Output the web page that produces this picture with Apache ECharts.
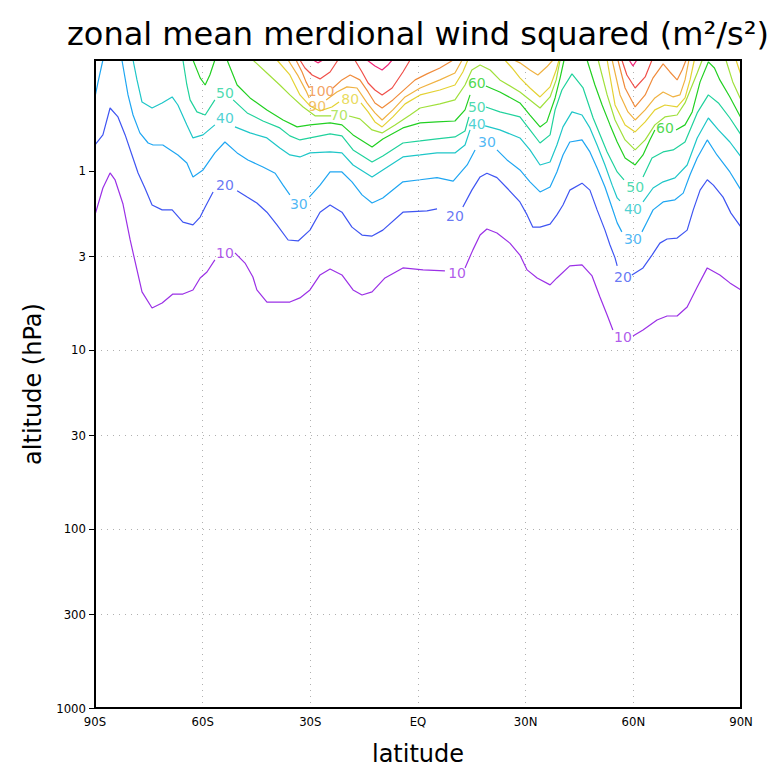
<!DOCTYPE html>
<html><head><meta charset="utf-8">
<script src="https://cdn.jsdelivr.net/npm/echarts@6/dist/echarts.min.js"></script>
<style>html,body{margin:0;padding:0;background:#fff}#c{width:780px;height:771px}</style>
</head><body><div id="c"></div>
<script>
// ---- data (latitude in degrees, pressure in hPa) ----
const xTickLabels = {'-90':'90S','-60':'60S','-30':'30S','0':'EQ','30':'30N','60':'60N','90':'90N'};
const yTickValues = [1,3,10,30,100,300,1000];
const levels = [10,20,30,40,50,60,70,80,90,100,110,120];

const c10 = [
 [[-90,1.76],[-87.8,1.245],[-85.8,1.026],[-84.4,1.123],[-82.2,1.53],[-80.2,2.43],[-78.3,3.57],[-76.9,4.74],[-74.1,5.83],[-71.3,5.47],[-68.3,4.87],[-65.5,4.87],[-62.7,4.62],[-60.7,3.96],[-58.8,3.67],[-56.6,3.14]],
 [[-51.0,2.87],[-48.2,3.27],[-46.0,3.91],[-44.9,4.62],[-42.1,5.40],[-35.7,5.40],[-32.9,5.12],[-30.1,4.62],[-27.3,3.81],[-24.5,3.53],[-21.2,3.81],[-18.1,4.62],[-15.6,4.93],[-12.8,4.74],[-9.2,3.96],[-4.2,3.48],[1.4,3.57],[7.5,3.62]],
 [[13.1,3.48],[15.3,2.76],[17.3,2.28],[19.2,2.11],[22.0,2.22],[25.6,2.53],[28.4,2.95],[30.4,3.57],[33.2,3.96],[36.8,4.33],[38.7,3.96],[42.3,3.39],[45.7,3.35],[48.5,3.86],[50.7,5.06],[52.7,6.38],[54.3,7.73]],
 [[59.9,8.35],[62.7,7.73],[66.6,6.80],[69.4,6.46],[72.2,6.46],[75.0,5.75],[77.8,4.45],[80.6,3.48],[84.1,3.81],[86.9,4.22],[90,4.62]]
];
const c20 = [
 [[-90,0.716],[-87.8,0.629],[-85.8,0.445],[-83.6,0.499],[-81.6,0.629],[-79.7,0.814],[-78.0,1.026],[-76.1,1.245],[-74.1,1.55],[-71.3,1.65],[-68.5,1.65],[-65.5,1.93],[-62.7,2.00],[-60.7,1.81],[-59.3,1.59],[-57.1,1.31]],
 [[-50.4,1.29],[-47.6,1.40],[-44.9,1.51],[-42.1,1.70],[-39.3,2.00],[-36.2,2.43],[-33.4,2.46],[-30.1,2.14],[-27.3,1.70],[-24.5,1.55],[-21.2,1.70],[-18.4,2.06],[-15.6,2.28],[-12.8,2.31],[-9.8,2.14],[-4.2,1.70],[2.5,1.67],[5.3,1.63]],
 [[12.5,1.59],[15.0,1.28],[17.3,1.08],[19.2,1.03],[22.0,1.09],[24.8,1.245],[28.4,1.49],[30.4,1.76],[32.0,2.06],[34.0,2.06],[36.8,1.98],[38.7,1.76],[40.4,1.55],[42.3,1.28],[45.7,1.17],[47.9,1.28],[49.9,1.65],[52.1,2.14],[53.5,2.59],[54.9,3.06],[55.5,3.39]],
 [[59.6,3.81],[62.7,3.48],[65.2,2.95],[67.4,2.53],[69.4,2.40],[72.2,2.37],[75.0,2.14],[76.7,1.65],[78.6,1.28],[80.6,1.12],[82.3,1.20],[85.0,1.40],[87.2,1.72],[90,2.06]]
];
const c30 = [
 [[-90,0.386],[-89.2,0.3225],[-87.8,0.24]],
 [[-82.5,0.24],[-80.8,0.376],[-79.4,0.487],[-77.5,0.613],[-75.2,0.698],[-73.8,0.716],[-71.1,0.716],[-66.9,0.814],[-64.4,0.902],[-62.7,1.08],[-59.9,0.987],[-56.6,0.793],[-53.8,0.689],[-50.4,0.793],[-47.4,0.868],[-43.2,0.95],[-39.8,1.03],[-37.6,1.20],[-35.7,1.36]],
 [[-30.3,1.40],[-27.3,1.20],[-24.5,1.013],[-21.2,1.013],[-18.4,1.15],[-15.6,1.36],[-12.8,1.51],[-9.8,1.415],[-4.2,1.15],[0.6,1.12],[5.3,1.09],[9.8,1.14],[13.7,0.926],[15.9,0.763]],
 [[22.0,0.763],[24.8,0.868],[28.4,0.987],[31.2,1.15],[34.0,1.31],[36.8,1.23],[38.7,1.013],[40.4,0.814],[42.3,0.689],[45.7,0.671],[47.9,0.783],[49.9,0.962],[52.1,1.23],[54.1,1.61],[55.5,1.95],[56.8,2.19]],
 [[62.4,2.19],[63.8,1.93],[65.5,1.65],[68.3,1.49],[71.6,1.45],[73.9,1.33],[75.8,1.05],[77.8,0.846],[80.6,0.671],[83.3,0.814],[86.9,1.013],[90,1.28]]
];
const c40 = [
 [[-79.4,0.24],[-78.3,0.31],[-76.9,0.412],[-74.1,0.445],[-71.3,0.417],[-68.5,0.386],[-66.9,0.428],[-64.4,0.553],[-62.7,0.654],[-59.9,0.629],[-56.6,0.553]],
 [[-51.0,0.5675],[-46.8,0.613],[-42.1,0.654],[-38.5,0.744],[-35.7,0.814],[-32.9,0.835],[-30.1,0.793],[-24.5,0.783],[-21.2,0.793],[-18.1,0.926],[-12.8,1.08],[-9.8,0.987],[-4.2,0.835],[0.6,0.814],[5.3,0.793],[10.3,0.793],[13.1,0.716],[14.5,0.59]],
 [[18.7,0.5605],[22.8,0.59],[28.4,0.654],[31.2,0.763],[34.0,0.926],[36.8,0.891],[38.7,0.716],[40.4,0.5675],[42.9,0.468],[45.7,0.487],[47.9,0.575],[49.9,0.716],[52.1,0.926],[54.1,1.20],[55.5,1.415],[56.3,1.47]],
 [[62.7,1.49],[65.5,1.245],[68.3,1.15],[71.6,1.094],[75.0,0.926],[77.8,0.654],[80.9,0.506],[83.7,0.59],[86.9,0.689],[90,0.835]]
];
const c50 = [
 [[-65.5,0.24],[-64.4,0.331],[-63.5,0.401],[-61.6,0.468],[-59.3,0.487],[-56.6,0.401]],
 [[-51.5,0.401],[-47.6,0.474],[-43.2,0.526],[-38.5,0.575],[-35.7,0.637],[-32.9,0.671],[-30.1,0.654],[-24.5,0.621],[-21.2,0.637],[-18.1,0.763],[-12.8,0.891],[-9.8,0.8245],[-4.2,0.698],[0.6,0.68],[5.3,0.6625],[10.3,0.6455],[13.1,0.598],[14.2,0.499]],
 [[18.9,0.439],[22.8,0.468],[28.4,0.499],[31.2,0.59],[34.0,0.698],[36.8,0.629],[38.2,0.456],[40.1,0.353],[42.9,0.287],[46.0,0.344],[48.8,0.506],[52.7,0.783],[55.5,1.013],[57.4,1.123]],
 [[62.7,1.08],[65.2,0.846],[68.3,0.783],[71.1,0.763],[74.4,0.689],[77.8,0.474],[80.9,0.376],[83.7,0.417],[86.9,0.506],[90,0.629]]
];
const c60 = [
 [[-62.7,0.24],[-60.7,0.302],[-59.3,0.331],[-58.0,0.291],[-56.6,0.24]],
 [[-53.2,0.24],[-50.4,0.331],[-46.8,0.391],[-42.1,0.456],[-37.6,0.519],[-33.7,0.5675],[-30.1,0.553],[-24.5,0.539],[-21.2,0.553],[-18.1,0.629],[-12.8,0.734],[-9.8,0.6625],[-4.2,0.575],[0.6,0.539],[5.3,0.532],[10.3,0.526],[13.1,0.456],[14.5,0.376]],
 [[18.9,0.335],[22.8,0.362],[28.4,0.417],[31.2,0.487],[34.0,0.5675],[35.9,0.532],[38.2,0.391],[39.6,0.302],[40.7,0.24]],
 [[47.1,0.24],[49.3,0.331],[51.3,0.428],[53.5,0.553],[55.5,0.689],[57.7,0.846],[60.5,0.926],[62.7,0.814],[64.6,0.671],[66.0,0.59]],
 [[71.9,0.59],[74.4,0.553],[76.4,0.468],[78.6,0.318],[80.9,0.246],[82.6,0.266],[84.1,0.31],[86.9,0.386],[90,0.506]]
];
const c70 = [
 [[-46.0,0.24],[-42.1,0.2835],[-38.5,0.331],[-35.7,0.376],[-32.0,0.439],[-28.6,0.493],[-24.2,0.493]],
 [[-19.2,0.493],[-16.2,0.512],[-12.8,0.59],[-10.0,0.613],[-6.4,0.553],[-2.2,0.4865],[0.6,0.445],[6.1,0.422],[10.3,0.401],[13.1,0.331],[15.0,0.273],[17.3,0.256],[20.1,0.273],[22.8,0.31],[28.4,0.362],[31.2,0.401],[34.0,0.445],[36.8,0.386],[38.5,0.31],[39.6,0.24]],
 [[50.2,0.24],[52.7,0.376],[54.9,0.519],[57.7,0.671],[60.5,0.763],[63.3,0.671],[66.0,0.553],[68.8,0.499],[72.2,0.487],[74.4,0.417],[77.8,0.2835],[79.2,0.24]],
 [[85.8,0.24],[87.7,0.318],[90,0.401]]
];
const c80 = [
 [[-39.3,0.24],[-35.7,0.291],[-32.9,0.376],[-30.1,0.4335],[-27.3,0.462],[-24.0,0.439],[-22.0,0.412]],
 [[-15.9,0.417],[-13.9,0.468],[-12.0,0.532],[-10.0,0.5675],[-7.0,0.499],[-3.6,0.422],[0.6,0.376],[6.1,0.353],[10.3,0.331],[12.5,0.28],[13.9,0.24]],
 [[24.2,0.24],[26.2,0.266],[28.4,0.302],[31.2,0.344],[34.0,0.386],[36.8,0.339],[38.5,0.273],[39.3,0.24]],
 [[52.7,0.24],[54.9,0.428],[57.7,0.553],[60.5,0.6055],[63.3,0.532],[66.0,0.456],[68.8,0.428],[72.2,0.439],[74.4,0.391],[75.8,0.31],[77.0,0.24]],
 [[88.6,0.24],[90,0.291]]
];
const c90 = [
 [[-36.2,0.24],[-33.4,0.2946],[-31.2,0.357],[-30.3,0.391]],
 [[-25.6,0.401],[-22.6,0.362],[-19.8,0.339],[-17.0,0.344],[-14.2,0.417],[-12.0,0.474],[-10.0,0.519],[-7.0,0.456],[-3.6,0.386],[0.6,0.344],[6.1,0.31],[10.3,0.2835],[12.3,0.24]],
 [[26.7,0.24],[28.4,0.249],[31.2,0.273],[33.4,0.291],[35.9,0.262],[37.6,0.24]],
 [[54.1,0.24],[56.3,0.376],[58.5,0.468],[60.5,0.519],[63.3,0.456],[66.0,0.391],[68.3,0.362],[71.1,0.386],[73.0,0.376],[74.4,0.31],[75.5,0.24]]
];
const c100 = [
 [[-34.0,0.24],[-32.3,0.28],[-31.2,0.318],[-30.3,0.344]],
 [[-23.7,0.344],[-21.2,0.31],[-18.9,0.291],[-16.2,0.31],[-13.9,0.362],[-12.0,0.417],[-10.0,0.445],[-7.0,0.401],[-3.6,0.348],[-0.8,0.31],[2.5,0.287],[6.1,0.266],[8.9,0.246],[9.8,0.24]],
 [[55.7,0.24],[57.7,0.344],[60.5,0.439],[63.3,0.376],[65.5,0.302],[68.3,0.2525],[70.2,0.28],[72.2,0.31],[73.6,0.273],[74.7,0.24]]
];
const c110 = [
 [[-32.9,0.24],[-31.5,0.266],[-29.5,0.291],[-27.3,0.306],[-24.5,0.28],[-22.3,0.24]],
 [[-17.6,0.24],[-15.6,0.28],[-13.9,0.3225],[-12.0,0.353],[-10.0,0.376],[-7.2,0.344],[-4.2,0.28],[-2.2,0.24]],
 [[56.8,0.24],[58.2,0.291],[60.5,0.344],[63.3,0.2985],[65.2,0.24]]
];
const c120 = [
 [[-29.2,0.24],[-27.9,0.249],[-26.5,0.24]],
 [[-14.2,0.24],[-12.0,0.259],[-10.0,0.273],[-8.4,0.256],[-7.2,0.24]],
 [[58.8,0.24],[59.9,0.259],[61.0,0.24]]
];
// contour labels: [latitude, pressure, level]
const contourLabels = [
 [-53.8,2.87,10],[10.9,3.71,10],[57.1,8.46,10],
 [-53.8,1.20,20],[10.3,1.78,20],[57.1,3.91,20],
 [-33.2,1.53,30],[19.2,0.689,30],[59.9,2.40,30],
 [-53.8,0.506,40],[16.4,0.546,40],[59.9,1.63,40],
 [-53.8,0.3665,50],[16.4,0.439,50],[60.5,1.23,50],
 [16.4,0.3225,60],[68.8,0.575,60],
 [-22.0,0.487,70],[-18.9,0.398,80],[-28.1,0.434,90],[-27.0,0.357,100]
];

// ---- styling ----
const contoursByLevel = {10:c10,20:c20,30:c30,40:c40,50:c50,60:c60,70:c70,80:c80,90:c90,100:c100,110:c110,120:c120};
const levelColors = {10:'#9b30e6',20:'#3f55f2',30:'#1fa6f2',40:'#1ec6c8',50:'#20d29c',60:'#22d022',70:'#a0e03c',80:'#e4d234',90:'#f0b242',100:'#f08c3c',110:'#f0504a',120:'#f02878'};
const FONT = "'DejaVu Sans', sans-serif";
const FONT_NARROW = "'DejaVu Sans Condensed','Liberation Sans Narrow','DejaVu Sans', sans-serif";

const series = [];
levels.forEach(lv => {
  contoursByLevel[lv].forEach(seg => {
    series.push({
      type: 'line', data: seg, symbol: 'none', silent: true, animation: false,
      lineStyle: {color: levelColors[lv], width: 1.2}, z: 3
    });
  });
});
series.push({
  type: 'scatter', symbolSize: 0, silent: true, animation: false, z: 4,
  data: contourLabels.map(d => ({
    value: [d[0], d[1]],
    label: {show: true, position: 'inside', formatter: String(d[2]), color: levelColors[d[2]],
            fontSize: 14, lineHeight: 12, fontFamily: FONT}
  }))
});

const chart = echarts.init(document.getElementById('c'), null, {renderer: 'svg'});
chart.setOption({
  backgroundColor: '#fff',
  animation: false,
  graphic: [{
    type: 'text', x: 418, y: 34,
    style: {text: 'zonal mean merdional wind squared (m²/s²)', fontSize: 32, fontFamily: FONT,
            fill: '#000', textAlign: 'center', textVerticalAlign: 'middle'}
  }],
  grid: {left: 95, right: 39, top: 60, bottom: 63, show: true, borderColor: '#000', borderWidth: 2, backgroundColor: 'transparent', z: 5},
  xAxis: {
    type: 'value', min: -90, max: 90, interval: 30,
    axisLine: {show: true, onZero: false, lineStyle: {color: '#000', width: 2}},
    axisTick: {show: false},
    axisLabel: {formatter: v => xTickLabels[String(v)] || '', color: '#000', fontSize: 13, fontFamily: FONT_NARROW, margin: 7},
    splitLine: {show: true, showMinLine: false, showMaxLine: false, lineStyle: {color: '#b0b0b0', type: [1, 5], width: 1}},
    name: 'latitude', nameLocation: 'middle', nameGap: 34,
    nameTextStyle: {fontSize: 24, color: '#000', fontFamily: FONT}
  },
  yAxis: {
    type: 'log', logBase: 10, min: 0.24, max: 1000, inverse: true,
    axisLine: {show: true, onZero: false, lineStyle: {color: '#000', width: 2}},
    axisTick: {show: true, customValues: yTickValues, length: 6, lineStyle: {color: '#000', width: 1}},
    axisLabel: {customValues: yTickValues, formatter: v => String(v), color: '#000', fontSize: 13, fontFamily: FONT_NARROW, margin: 9},
    minorTick: {show: false},
    splitLine: {show: true, showMinLine: false, showMaxLine: false, lineStyle: {color: '#b0b0b0', type: [1, 5], width: 1}},
    name: 'altitude (hPa)', nameLocation: 'middle', nameGap: 48, nameRotate: 90,
    nameTextStyle: {fontSize: 24, color: '#000', fontFamily: FONT}
  },
  series: series
});
</script>
</body></html>
